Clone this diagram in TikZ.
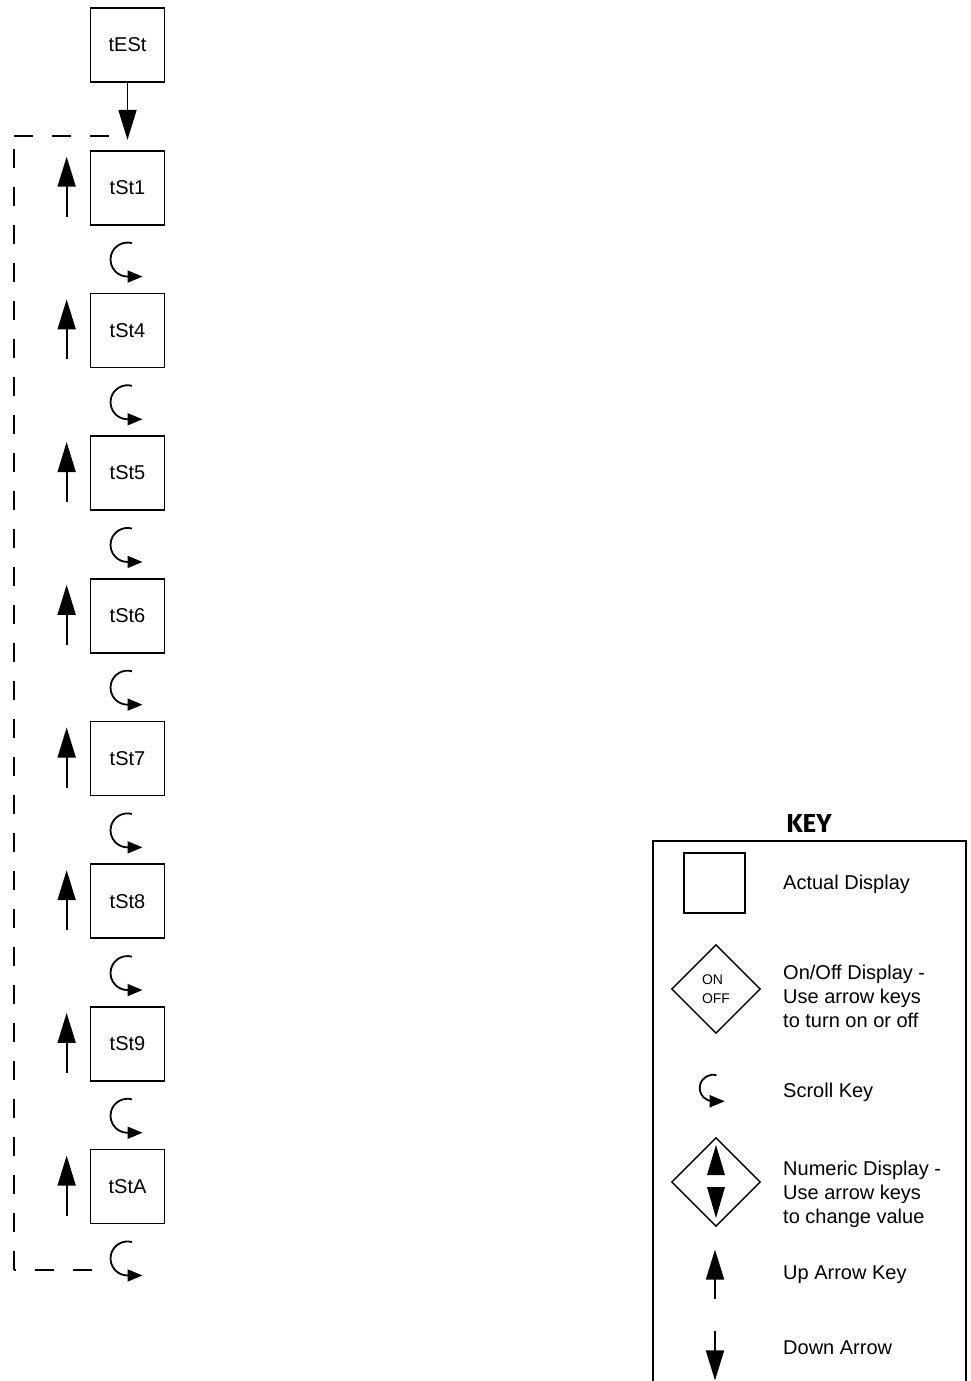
\documentclass[tikz,border=0pt]{standalone}
\usepackage{fontspec}
\setmainfont{Liberation Sans}
\newfontfamily\keyfont{Fira Sans}
\usetikzlibrary{positioning,shapes.geometric,arrows.meta}

\begin{document}
\begin{tikzpicture}[x=1pt,y=1pt,node distance=67pt,
        disp/.style={draw,line width=1.7pt,minimum width=74pt,minimum height=74pt,inner sep=0pt,font=\fontsize{20}{24}\selectfont},
        onoff/.style={draw,diamond,line width=1.4pt,minimum width=89pt,minimum height=89pt,inner sep=0pt},
        keytext/.style={anchor=west,inner sep=0pt,align=left,font=\fontsize{20}{24}\selectfont},
        tip/.style={-{Triangle[length=30pt,width=18pt]},line width=1.8pt},
        dashline/.style={line width=1.6pt,dash pattern=on 19pt off 19pt},
        scroll/.pic={\draw[line width=1.8pt,-{Triangle[length=15pt,width=12pt]}] (75:17) arc[start angle=75,end angle=270,radius=17] -- ++(15,0);},
        uparrow/.pic={\draw[tip] (0,-29) -- (0,31);},
        dnarrow/.pic={\draw[tip] (0,29) -- (0,-31);}]
            \useasboundingbox (0,0) rectangle (970,-1381);
            \node[disp] (tESt) at (127.5,-45) {tESt};
            \node[disp] (tSt1)[below =of tESt] {tSt1};
            \node[disp] (tSt4)[below =of tSt1] {tSt4};
            \node[disp] (tSt5)[below =of tSt4] {tSt5};
            \node[disp] (tSt6)[below =of tSt5] {tSt6};
            \node[disp] (tSt7)[below =of tSt6] {tSt7};
            \node[disp] (tSt8)[below =of tSt7] {tSt8};
            \node[disp] (tSt9)[below =of tSt8] {tSt9};
            \node[disp] (tStA)[below =of tSt9] {tStA};
            \coordinate[above =10pt of tSt1] (entry);
            \path[tip] (tESt) edge (entry);
            \pic at ([xshift=-23pt]tSt1.west) {uparrow};
            \pic at ([xshift=-23pt]tSt4.west) {uparrow};
            \pic at ([xshift=-23pt]tSt5.west) {uparrow};
            \pic at ([xshift=-23pt]tSt6.west) {uparrow};
            \pic at ([xshift=-23pt]tSt7.west) {uparrow};
            \pic at ([xshift=-23pt]tSt8.west) {uparrow};
            \pic at ([xshift=-23pt]tSt9.west) {uparrow};
            \pic at ([xshift=-23pt]tStA.west) {uparrow};
            \pic at ([yshift=-34pt]tSt1.south) {scroll};
            \pic at ([yshift=-34pt]tSt4.south) {scroll};
            \pic at ([yshift=-34pt]tSt5.south) {scroll};
            \pic at ([yshift=-34pt]tSt6.south) {scroll};
            \pic at ([yshift=-34pt]tSt7.south) {scroll};
            \pic at ([yshift=-34pt]tSt8.south) {scroll};
            \pic at ([yshift=-34pt]tSt9.south) {scroll};
            \pic at ([yshift=-34pt]tStA.south) {scroll};
            % return path
            \coordinate (tl) at (14,-136);
            \coordinate (bl) at (14,-1270);
            \coordinate (ret) at (92,-1270);
            \draw[dashline,dash phase=19.5pt] (entry |- tl) -- (tl);
            \draw[dashline,dash phase=25pt] (tl) -- (bl);
            \draw[dashline] (ret) -- (bl);

            % key
            \node[inner sep=0pt,font=\keyfont\bfseries\fontsize{26}{30}\selectfont] (keytitle) at (809,-823) {KEY};
            \draw[line width=1.5pt] (653,-1395) |- (966,-841) -- (966,-1395);
            \node[disp,line width=1.4pt,minimum width=61pt,minimum height=60pt] (actual) at (714.5,-883) {};
            \node[keytext] (actualtext) at (783,-884) {Actual Display};
            \node[onoff,align=left,font=\fontsize{14}{19}\selectfont] (onoffkey) at (716,-989) {ON\\OFF};
            \node[keytext] (onofftext) at (783,-996) {On/Off Display -\\Use arrow keys\\to turn on or off};
            \pic[scale=0.78] at (713,-1088) {scroll};
            \node[keytext] (scrolltext) at (783,-1092) {Scroll Key};
            \node[onoff] (numkey) at (716,-1182) {};
            \fill ([yshift=37pt]numkey.center) -- ++(-9,-30) -- ++(18,0) -- cycle;
            \fill ([yshift=-36pt]numkey.center) -- ++(-9,31) -- ++(18,0) -- cycle;
            \node[keytext] (numtext) at (783,-1194) {Numeric Display -\\Use arrow keys\\to change value};
            \pic[scale=0.82] at (715,-1275) {uparrow};
            \node[keytext] (uptext) at (783,-1275) {Up Arrow Key};
            \pic[scale=0.82] at (715,-1355) {dnarrow};
            \node[keytext] (dntext) at (783,-1348) {Down Arrow};
\end{tikzpicture}
\end{document}
